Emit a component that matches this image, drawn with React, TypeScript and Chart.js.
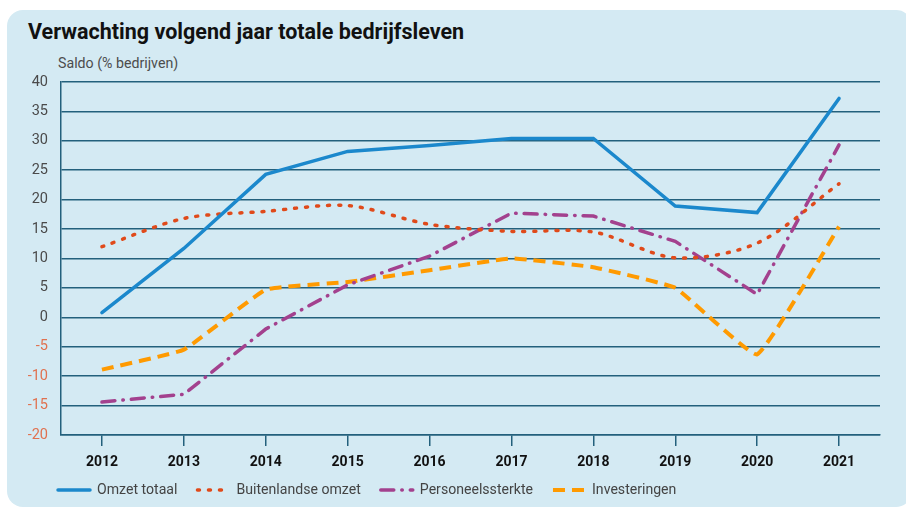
import React, { useEffect, useRef } from "react";
import { Chart, registerables } from "chart.js";

Chart.register(...registerables);

const years = ["2012", "2013", "2014", "2015", "2016", "2017", "2018", "2019", "2020", "2021"];
const omzetTotaal = [0.8, 11.7, 24.3, 28.2, 29.2, 30.4, 30.4, 18.9, 17.8, 37.2];
const buitenlandseOmzet = [12.0, 16.8, 18.0, 19.0, 15.8, 14.6, 14.5, 10.1, 12.6, 22.7];
const personeelssterkte = [-14.4, -13.1, -2.0, 5.5, 10.4, 17.7, 17.2, 12.9, 3.9, 29.3];
const investeringen = [-8.9, -5.5, 4.7, 6.0, 8.0, 10.0, 8.5, 5.0, -6.3, 15.4];
const seriesNames = ["Omzet totaal", "Buitenlandse omzet", "Personeelssterkte", "Investeringen"];

const yMin = -20;
const yMax = 40;
const yStep = 5;

const gridColor = "#23607c";
const FONT = "Roboto, 'Noto Sans', sans-serif";
const LEGEND_PAD = 20;

const legendPlacer = {
  id: "legendPlacer",
  beforeDraw(chart: any) {
    const lg = chart.legend;
    if (!lg) return;
    const w = lg.right - lg.left;
    lg.left = 58 - LEGEND_PAD;
    lg.right = lg.left + w;
    const h = lg.bottom - lg.top;
    lg.top = 483 - LEGEND_PAD;
    lg.bottom = lg.top + h;
  },
};

export default function App() {
  const ref = useRef<HTMLCanvasElement | null>(null);

  useEffect(() => {
    if (!ref.current) return;
    const chart = new Chart(ref.current, {
      type: "line",
      data: {
        labels: years,
        datasets: [
          {
            label: seriesNames[0],
            data: omzetTotaal,
            borderColor: "#1b88cc",
            backgroundColor: "#1b88cc",
            borderWidth: 3.5,
            pointRadius: 0,
            tension: 0,
            borderCapStyle: "round",
          },
          {
            label: seriesNames[1],
            data: buitenlandseOmzet,
            borderColor: "#e04a1a",
            backgroundColor: "#e04a1a",
            borderWidth: 3.5,
            pointRadius: 0,
            tension: 0.3,
            borderDash: [2, 9],
            borderCapStyle: "round",
          },
          {
            label: seriesNames[2],
            data: personeelssterkte,
            borderColor: "#a3418e",
            backgroundColor: "#a3418e",
            borderWidth: 3.5,
            pointRadius: 0,
            tension: 0,
            borderDash: [13, 8, 0.5, 8],
            borderCapStyle: "round",
          },
          {
            label: seriesNames[3],
            data: investeringen,
            borderColor: "#ff9a00",
            backgroundColor: "#ff9a00",
            borderWidth: 4,
            pointRadius: 0,
            tension: 0.1,
            borderDash: [12, 7],
            borderCapStyle: "butt",
          },
        ],
      },
      options: {
        responsive: false,
        animation: false,
        layout: { padding: { top: 82, left: 8, right: 26, bottom: -2 } },
        plugins: {
          title: { display: false },
          tooltip: { enabled: false },
          legend: {
            position: "bottom",
            align: "start",
            labels: {
              usePointStyle: true,
              pointStyle: "line",
              pointStyleWidth: 32,
              font: { family: FONT, size: 14.1 },
              color: "#444444",
              padding: LEGEND_PAD,
              generateLabels: (ch: any) => {
                const items = (Chart as any).defaults.plugins.legend.labels.generateLabels(ch);
                items.forEach((it: any, i: number) => {
                  const ds: any = ch.data.datasets[i];
                  it.lineDash = ds.borderDash || [];
                  it.lineCap = ds.borderCapStyle || "butt";
                  it.lineWidth = ds.borderWidth;
                  it.strokeStyle = ds.borderColor;
                  it.fillStyle = ds.borderColor;
                  it.pointStyle = "line";
                });
                return items;
              },
            },
          },
        },
        scales: {
          x: {
            offset: true,
            afterFit: (scale: any) => {
              scale.height = 33;
            },
            grid: {
              drawOnChartArea: false,
              drawTicks: true,
              tickLength: 11,
              color: gridColor,
              lineWidth: 1.5,
            },
            border: { display: true, color: gridColor, width: 1.5 },
            ticks: {
              font: { family: FONT, size: 14, weight: "bold" },
              color: "#111111",
              padding: 8,
            },
          },
          y: {
            min: yMin,
            max: yMax,
            afterFit: (scale: any) => {
              scale.width = 53;
            },
            ticks: {
              stepSize: yStep,
              padding: 13,
              font: { family: FONT, size: 14.5 },
              color: (ctx: any) => (ctx.tick && ctx.tick.value < 0 ? "#e0714f" : "#4a4a4a"),
            },
            grid: {
              color: gridColor,
              lineWidth: 1.5,
              drawTicks: false,
            },
            border: { display: true, color: gridColor, width: 1.5 },
          },
        },
      },
      plugins: [legendPlacer],
    });
    return () => chart.destroy();
  }, []);

  return (
    <div style={{ position: "absolute", left: 0, top: 0, width: 906, height: 510, background: "#ffffff", overflow: "hidden" }}>
      <div
        style={{
          position: "absolute",
          left: 7,
          top: 10,
          width: 905,
          height: 497,
          background: "#d4eaf3",
          borderRadius: 16,
        }}
      />
      <div
        style={{
          position: "absolute",
          left: 28,
          top: 19,
          fontFamily: FONT,
          fontWeight: 700,
          fontSize: 21.5,
          lineHeight: "26px",
          color: "#111111",
          whiteSpace: "nowrap",
        }}
      >
        Verwachting volgend jaar totale bedrijfsleven
      </div>
      <div
        style={{
          position: "absolute",
          left: 58,
          top: 54,
          fontFamily: FONT,
          fontSize: 14.2,
          lineHeight: "18px",
          color: "#4d4d4d",
          whiteSpace: "nowrap",
        }}
      >
        Saldo (% bedrijven)
      </div>
      <canvas ref={ref} width={906} height={510} style={{ position: "absolute", left: 0, top: 0 }} />
    </div>
  );
}
